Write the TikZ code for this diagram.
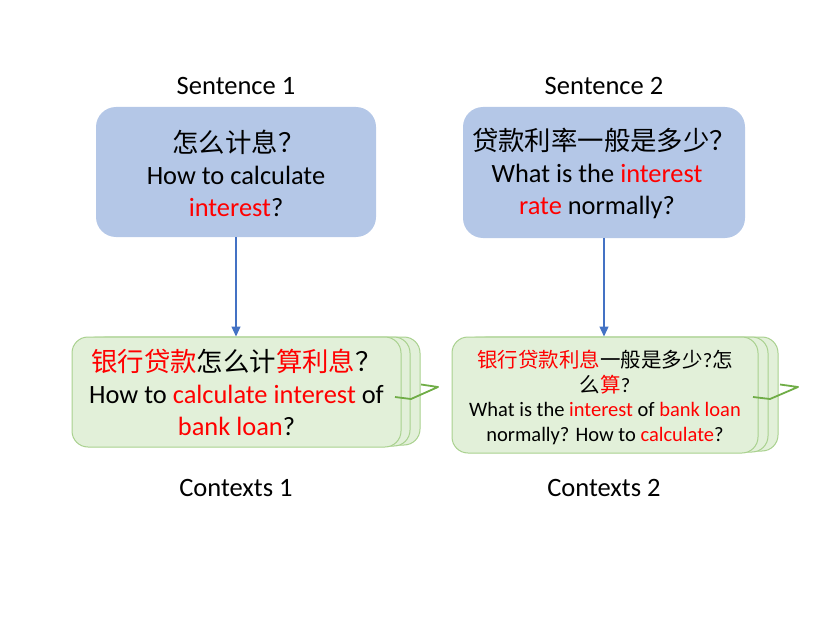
\documentclass[tikz,border=0pt]{standalone}
\usepackage{fontspec}
\setmainfont{Carlito}
\newfontfamily\cjk{Noto Sans CJK SC}
\usetikzlibrary{arrows.meta}
\definecolor{bluefill}{RGB}{180,199,231}
\definecolor{greenfill}{RGB}{226,240,217}
\definecolor{greenline}{RGB}{169,209,142}
\definecolor{greendark}{RGB}{112,173,71}
\definecolor{arrowblue}{RGB}{68,114,196}
\definecolor{hl}{RGB}{255,0,0}
\newcommand{\zh}[1]{{\cjk #1}}
\newcommand{\hi}[1]{\textcolor{hl}{#1}}
\begin{document}
\begin{tikzpicture}[x=1pt,y=-1pt,
  bluebox/.style={fill=bluefill, rounded corners=20pt, inner sep=0pt},
  greenbox/.style={fill=greenfill, draw=greenline, line width=1pt, rounded corners=16pt, inner sep=0pt},
  txt/.style={inner sep=0pt, align=center},
  big/.style={font=\fontsize{26.4}{32}\selectfont},
  small/.style={font=\fontsize{20.5}{24.5}\selectfont},
  label/.style={font=\fontsize{26.5}{30}\selectfont, inner sep=0pt},
  conn/.style={draw=arrowblue, line width=1.2pt, -{Triangle[length=10pt,width=9pt]}},
  squig/.style={draw=greendark, line width=1.8pt, line join=round}]
\useasboundingbox (0,0) rectangle (830,623);
% labels
\node[label] (l1) at (236,86) {Sentence 1};
\node[label] (l2) at (604,86) {Sentence 2};
\node[label] (l3) at (236,488) {Contexts 1};
\node[label] (l4) at (604,488) {Contexts 2};
% sentence boxes
\node[bluebox, minimum width=280pt, minimum height=130pt] (s1) at (236,172) {};
\node[txt, big] (s1t) at (236,173)
  {\hspace*{5pt}\zh{怎么计息？}\\How to calculate\\\hi{interest}?};
\node[bluebox, minimum width=282pt, minimum height=131pt] (s2) at (604,172.5) {};
\node[txt, big] (s2t) at (597,173.5)
  {\hspace*{14pt}\zh{贷款利率一般是多少？}\\What is the \hi{interest}\\\hi{rate} normally?};
% context boxes 1 (stacked)
\node[greenbox, minimum width=329pt, minimum height=108pt] (c1c) at (255.5,391) {};
\node[greenbox, minimum width=329pt, minimum height=109pt] (c1b) at (245.5,391.5) {};
\node[greenbox, minimum width=329pt, minimum height=110pt] (c1) at (236.5,392) {};
\node[txt, big] (c1t) at (236.5,392.5)
  {\zh{\hi{银行贷款}怎么计\hi{算利息}？}\\How to \hi{calculate interest} of\\\hi{bank loan}?};
% context boxes 2 (stacked)
\node[greenbox, minimum width=306pt, minimum height=114pt] (c2c) at (625,394) {};
\node[greenbox, minimum width=306pt, minimum height=115pt] (c2b) at (615,394.5) {};
\node[greenbox, minimum width=306pt, minimum height=116pt] (c2) at (605,395) {};
\node[txt, small] (c2t) at (605,397.5)
  {\zh{\hi{银行贷款利息}一般是多少}?\zh{怎}\\\zh{么\hi{算}}?\\What is the \hi{interest} of \hi{bank loan}\\normally? How to \hi{calculate}?};
% arrows
\draw[conn] (s1.south) -- (s1.south |- c1.north);
\draw[conn] (s2.south) -- (s2.south |- c2.north);
% squiggles
\coordinate (q1a) at (395,397);
\coordinate (q1b) at (411,399);
\coordinate (q1c) at (438,387);
\coordinate (q1d) at (421,384.5);
\draw[squig] (q1a) -- (q1b) -- (q1c) -- (q1d);
\coordinate (q2a) at (753,397);
\coordinate (q2b) at (770,399);
\coordinate (q2c) at (798,387);
\coordinate (q2d) at (780,384.5);
\draw[squig] (q2a) -- (q2b) -- (q2c) -- (q2d);
\end{tikzpicture}
\end{document}
